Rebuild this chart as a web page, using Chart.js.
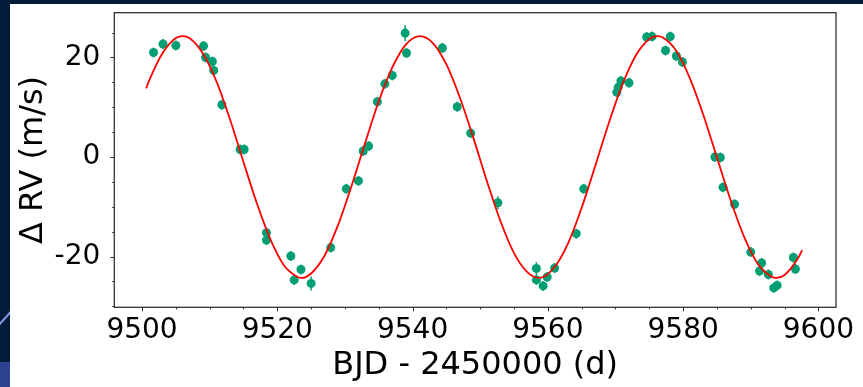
<!DOCTYPE html>
<html>
<head>
<meta charset="utf-8">
<script src="https://cdn.jsdelivr.net/npm/chart.js@4.4.0/dist/chart.umd.min.js"></script>
<style>
html, body { margin: 0; padding: 0; }
body { width: 863px; height: 387px; background: #031a38; position: relative; overflow: hidden; }
#panel { position: absolute; left: 10px; top: 4px; width: 853px; height: 383px; background: #fff; }
#streak { position: absolute; left: -5px; top: 316px; width: 22px; height: 1.5px; background: #7d9be6; transform: rotate(-48deg); }
#corner { position: absolute; left: 0; top: 362px; width: 10px; height: 25px; background: #2b4291; }
canvas { display: block; }
</style>
</head>
<body>
<div id="streak"></div>
<div id="corner"></div>
<div id="panel"><canvas id="rv" width="853" height="383"></canvas></div>
<script>
const obsTime = [9501.7, 9503.1, 9505.0, 9509.1, 9509.4, 9510.4, 9510.6, 9511.8, 9514.5, 9515.1,
    9518.4, 9518.4, 9522.0, 9522.5, 9523.5, 9525.0, 9527.9, 9530.2, 9532.0, 9532.7,
    9533.5, 9534.8, 9535.9, 9537.0, 9538.9, 9539.1, 9544.4, 9546.6, 9548.6, 9552.6,
    9558.3, 9558.3, 9559.3, 9559.9, 9561.0, 9564.2, 9565.3, 9570.2, 9570.4, 9570.8,
    9572.0, 9574.6, 9575.4, 9577.4, 9578.1, 9579.0, 9579.9, 9584.7, 9585.5, 9585.9,
    9587.6, 9590.0, 9591.3, 9591.6, 9592.6, 9593.4, 9593.9, 9596.3, 9596.6];
const obsRV = [21.0, 22.7, 22.4, 22.3, 20.0, 19.2, 17.4, 10.5, 1.5, 1.5,
    -15.2, -16.7, -19.9, -24.7, -22.6, -25.4, -18.2, -6.4, -4.8, 1.2,
    2.2, 11.1, 14.7, 16.4, 24.9, 20.9, 21.9, 10.1, 4.8, -9.2,
    -22.4, -24.7, -25.9, -24.1, -22.3, -15.4, -6.4, 13.0, 14.0, 15.3,
    14.9, 24.1, 24.2, 21.4, 24.2, 20.3, 19.1, 0.0, -0.1, -6.1,
    -9.5, -19.1, -22.9, -21.3, -23.6, -26.3, -25.8, -20.2, -22.5];
const obsErr = [1.0, 1.0, 1.0, 1.0, 1.0, 1.0, 1.0, 1.0, 1.0, 1.0,
    1.0, 1.0, 1.0, 1.0, 1.0, 1.4, 1.0, 1.0, 1.0, 1.0,
    1.0, 1.0, 1.0, 1.0, 1.6, 1.0, 1.0, 1.0, 1.0, 1.3,
    1.3, 1.0, 1.0, 1.0, 1.0, 1.0, 1.0, 1.0, 1.0, 1.0,
    1.0, 1.0, 1.0, 1.0, 1.0, 1.0, 1.0, 1.0, 1.0, 1.0,
    1.0, 1.0, 1.0, 1.0, 1.0, 1.0, 1.0, 1.0, 1.0];

// Keplerian model curve (sampled off the red line)
const modelTime = [9500.6, 9501, 9503, 9505, 9506, 9507, 9509, 9511, 9513, 9515,
    9517, 9519, 9521, 9523, 9523.6, 9525, 9527, 9529, 9531, 9533,
    9535, 9537, 9539, 9541.1, 9543, 9545, 9547, 9549, 9551, 9553,
    9555, 9557, 9558.7, 9561, 9563, 9565, 9567, 9569, 9571, 9573,
    9575, 9576.2, 9577, 9579, 9581, 9583, 9585, 9587, 9589, 9591,
    9593, 9593.8, 9595, 9597, 9597.6];
const modelRV = [13.8, 15.2, 20.8, 23.9, 24.3, 23.9, 20.8, 15.2, 7.6, -1.0,
    -9.4, -16.6, -21.8, -24.1, -24.3, -23.4, -19.8, -13.6, -5.7, 2.9,
    11.2, 18.0, 22.6, 24.3, 22.9, 18.6, 11.9, 3.8, -4.9, -12.9,
    -19.3, -23.2, -24.3, -22.1, -17.3, -10.2, -1.8, 6.8, 14.5, 20.4,
    23.7, 24.3, 24.0, 21.3, 15.8, 8.4, -0.1, -8.6, -16.0, -21.4,
    -24.0, -24.3, -23.7, -20.3, -18.7];

const xRange = [9495.9, 9602.6];
const yRange = [-30.2, 29.0];
const majorStep = 20;
const minorStep = 5;

const pointColor = '#009e73';
const lineColor = '#ff0000';
const fontFamily = '"DejaVu Sans", sans-serif';

const isMajor = v => Math.abs(v % majorStep) < 1e-6;

// error bars, minor/major ticks and the box around the axes
const axisDecor = {
    id: 'axisDecor',
    beforeDatasetsDraw(chart) {
        const { ctx, scales: { x, y } } = chart;
        ctx.save();
        ctx.strokeStyle = pointColor;
        ctx.lineWidth = 1.5;
        obsTime.forEach((t, i) => {
            const px = x.getPixelForValue(t);
            ctx.beginPath();
            ctx.moveTo(px, y.getPixelForValue(obsRV[i] - obsErr[i]));
            ctx.lineTo(px, y.getPixelForValue(obsRV[i] + obsErr[i]));
            ctx.stroke();
        });
        ctx.restore();
    },
    afterDatasetsDraw(chart) {
        const { ctx, chartArea: a, scales: { x, y } } = chart;
        ctx.save();
        ctx.strokeStyle = '#222';
        ctx.lineWidth = 1;
        ctx.beginPath();
        x.ticks.forEach(t => {
            const px = Math.round(x.getPixelForValue(t.value)) + 0.5;
            ctx.moveTo(px, a.bottom);
            ctx.lineTo(px, a.bottom + (isMajor(t.value) ? 4 : 2));
        });
        y.ticks.forEach(t => {
            const py = Math.round(y.getPixelForValue(t.value)) + 0.5;
            ctx.moveTo(a.left, py);
            ctx.lineTo(a.left - (isMajor(t.value) ? 4 : 2), py);
        });
        ctx.stroke();
        ctx.strokeStyle = '#333';
        ctx.lineWidth = 1.3;
        ctx.strokeRect(a.left, a.top, a.right - a.left, a.bottom - a.top);
        ctx.restore();
    }
};

const ctxRV = document.getElementById('rv').getContext('2d');
const rvChart = new Chart(ctxRV, {
    type: 'scatter',
    data: {
        datasets: [{
            type: 'line',
            label: 'Model',
            data: modelTime.map((t, i) => ({ x: t, y: modelRV[i] })),
            borderColor: lineColor,
            borderWidth: 1.8,
            pointRadius: 0,
            fill: false,
            cubicInterpolationMode: 'monotone',
            order: 0
        }, {
            type: 'scatter',
            label: 'RV',
            data: obsTime.map((t, i) => ({ x: t, y: obsRV[i] })),
            backgroundColor: pointColor,
            borderWidth: 0,
            pointRadius: 4.5,
            order: 1
        }]
    },
    options: {
        responsive: false,
        animation: false,
        layout: { padding: { top: 8.7, right: 27, left: 0, bottom: 0 } },
        plugins: {
            legend: { display: false },
            tooltip: { enabled: false }
        },
        scales: {
            x: {
                type: 'linear',
                min: xRange[0],
                max: xRange[1],
                grid: { display: false, drawTicks: false },
                border: { display: false },
                ticks: {
                    stepSize: minorStep,
                    includeBounds: false,
                    autoSkip: false,
                    maxRotation: 0,
                    padding: 7,
                    color: '#000',
                    font: { family: fontFamily, size: 28 },
                    callback: v => isMajor(v) ? String(v) : ''
                },
                title: {
                    display: true,
                    text: 'BJD - 2450000 (d)',
                    color: '#000',
                    font: { family: fontFamily, size: 32 },
                    padding: { top: 0, bottom: 2 }
                },
                afterFit(scale) {
                    scale.height = 79.7;
                    scale.paddingLeft = 0;
                    scale.paddingRight = 0;
                }
            },
            y: {
                type: 'linear',
                min: yRange[0],
                max: yRange[1],
                grid: { display: false, drawTicks: false },
                border: { display: false },
                ticks: {
                    stepSize: minorStep,
                    includeBounds: false,
                    autoSkip: false,
                    padding: 14,
                    color: '#000',
                    font: { family: fontFamily, size: 28 },
                    callback: v => isMajor(v) ? String(v) : ''
                },
                title: {
                    display: true,
                    text: 'Δ RV (m/s)',
                    color: '#000',
                    font: { family: fontFamily, size: 32 },
                    padding: { top: 4, bottom: 0 }
                },
                afterFit(scale) {
                    scale.width = 104.3;
                    scale.paddingTop = 0;
                    scale.paddingBottom = 0;
                }
            }
        }
    },
    plugins: [axisDecor]
});
</script>
</body>
</html>
